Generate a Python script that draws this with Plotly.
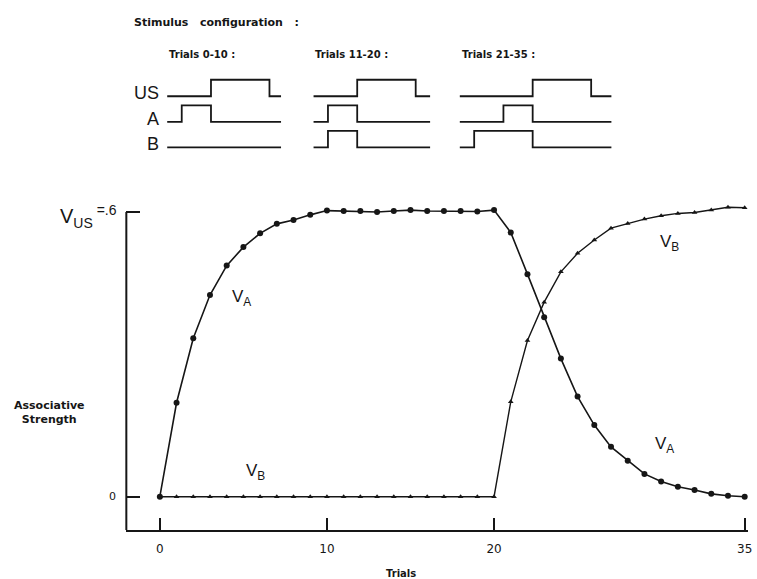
import plotly.graph_objects as go

W, H = 757, 579

# Associative strength of stimuli A and B on each trial
trials = list(range(36))
v_a = [0.0, 0.198, 0.334, 0.425, 0.487, 0.526, 0.555, 0.575, 0.583, 0.594, 0.603,
       0.602, 0.602, 0.600, 0.602, 0.604, 0.602, 0.602, 0.602, 0.601, 0.604,
       0.557, 0.469, 0.378, 0.291, 0.211, 0.151, 0.105, 0.076, 0.048, 0.032,
       0.021, 0.014, 0.006, 0.002, 0.0]
v_b = [0.0] * 21 + [0.200, 0.329, 0.410, 0.474, 0.513, 0.541, 0.566, 0.576,
                    0.585, 0.592, 0.597, 0.599, 0.604, 0.610, 0.609]
x_ticks = [0, 10, 20, 35]
v_us = 0.6

# Stimulus timing for each block of trials: (onset, offset), None = absent
block_titles = ["Trials 0-10 :", "Trials 11-20 :", "Trials 21-35 :"]
stim_names = ["US", "A", "B"]
us_pulse = [(3, 7), (3, 7), (5, 9)]
a_pulse = [(1, 3), (1, 3), (3, 5)]
b_pulse = [None, (1, 3), (1, 5)]
block_len = [7.8, 8.0, 10.4]

INK = "#161616"
SANS = "DejaVu Sans"
PLAIN = "Liberation Sans"


def px_x(p):
    return p / W


def px_y(p):
    return 1 - p / H


fig = go.Figure()

# Learning curves
fig.add_trace(go.Scatter(
    x=trials, y=v_a, mode="lines+markers", name="V_A",
    line=dict(color=INK, width=1.6),
    marker=dict(symbol="circle", size=6, color=INK),
    cliponaxis=False, hoverinfo="skip"))
fig.add_trace(go.Scatter(
    x=trials, y=v_b, mode="lines+markers", name="V_B",
    line=dict(color=INK, width=1.4),
    marker=dict(symbol="triangle-up", size=5, color=INK),
    cliponaxis=False, hoverinfo="skip"))

# Stimulus configuration schematic: one small panel per block
ROW_GAP = 1.55
row_base = {"US": 2 * ROW_GAP, "A": ROW_GAP, "B": 0.0}
pulses = {"US": us_pulse, "A": a_pulse, "B": b_pulse}
panel_left_px = [168, 315, 462]
UNIT_PX = 14.7
panel_axes = ["x2", "x3", "x4"]

for i in range(len(block_titles)):
    for s in stim_names:
        base = row_base[s]
        p = pulses[s][i]
        if p is None:
            xs, ys = [0, block_len[i]], [base, base]
        else:
            xs = [0, p[0], p[1], block_len[i]]
            ys = [base, base + 1, base, base]
        fig.add_trace(go.Scatter(
            x=xs, y=ys, xaxis=panel_axes[i], yaxis="y2", mode="lines",
            line=dict(color=INK, width=1.8, shape="hv"),
            cliponaxis=False, hoverinfo="skip", showlegend=False))

layout = dict(
    width=W, height=H, margin=dict(l=0, r=0, t=0, b=0),
    paper_bgcolor="white", plot_bgcolor="white", showlegend=False,
    xaxis=dict(
        domain=[px_x(127), px_x(752)], range=[-2.006, 35.2],
        tickvals=x_ticks, ticks="inside", ticklen=12, tickwidth=2,
        tickcolor=INK, showline=True, linecolor=INK, linewidth=2,
        showgrid=False, zeroline=False, ticklabelstandoff=7,
        tickfont=dict(family=SANS, size=12, color=INK), anchor="y"),
    yaxis=dict(
        domain=[px_y(530), px_y(200)], range=[-0.0702, 0.6253],
        tickvals=[0, v_us], ticks="inside", ticklen=14, tickwidth=2,
        tickcolor=INK, showticklabels=False, showline=False,
        showgrid=False, zeroline=False, anchor="x"),
    yaxis2=dict(domain=[px_y(160), px_y(70)], range=[-0.76, 4.69],
                visible=False, anchor="x2"),
)
for i, name in enumerate(panel_axes):
    left = panel_left_px[i]
    right = left + block_len[i] * UNIT_PX
    layout["xaxis" + name[1:]] = dict(
        domain=[px_x(left), px_x(right)], range=[0, block_len[i]],
        visible=False, anchor="y2")
fig.update_layout(**layout)

# Vertical axis line, ending at the V_US level
fig.add_shape(type="line", xref="x domain", x0=0, x1=0, yref="y",
              y0=-0.0702, y1=v_us, line=dict(color=INK, width=2))

ann = []
# y-axis value labels
ann.append(dict(text="0", xref="paper", x=px_x(119), yref="y", y=0,
                xanchor="right", yanchor="middle", showarrow=False,
                font=dict(family=SANS, size=11, color=INK)))
ann.append(dict(text="V<sub>US</sub><sup>\u00a0=.6</sup>", xref="paper",
                x=px_x(120), yref="y", y=v_us, xanchor="right",
                yanchor="middle", yshift=-4, showarrow=False,
                font=dict(family=PLAIN, size=20, color=INK)))
# axis titles
ann.append(dict(text="Associative<br>Strength", xref="paper", x=px_x(50),
                yref="paper", y=px_y(412), xanchor="center", yanchor="middle",
                showarrow=False,
                font=dict(family=SANS, size=11, color=INK, weight="bold")))
ann.append(dict(text="Trials", xref="paper", x=px_x(403), yref="paper",
                y=px_y(573), xanchor="center", yanchor="middle",
                showarrow=False,
                font=dict(family=SANS, size=10, color=INK, weight="bold")))
# schematic headings
ann.append(dict(text="Stimulus\u00a0\u00a0\u00a0configuration\u00a0\u00a0\u00a0:",
                xref="paper", x=px_x(133), yref="paper", y=px_y(23),
                xanchor="left", yanchor="middle", showarrow=False,
                font=dict(family=SANS, size=11, color=INK, weight="bold")))
for i, title in enumerate(block_titles):
    ann.append(dict(text=title, xref=panel_axes[i] + " domain", x=0,
                    yref="paper", y=px_y(55), xanchor="left",
                    yanchor="middle", showarrow=False,
                    font=dict(family=SANS, size=10, color=INK,
                              weight="bold")))
for s in stim_names:
    ann.append(dict(text=s, xref="paper", x=px_x(162), yref="y2",
                    y=row_base[s], xanchor="right", yanchor="middle",
                    yshift=3, showarrow=False,
                    font=dict(family=PLAIN, size=18, color=INK)))
# curve labels
curve_labels = [("V<sub>A</sub>", 4.9, 0.419), ("V<sub>B</sub>", 5.73, 0.052),
                ("V<sub>B</sub>", 30.5, 0.534), ("V<sub>A</sub>", 30.2, 0.109)]
for text, lx, ly in curve_labels:
    ann.append(dict(text=text, xref="x", x=lx, yref="y", y=ly,
                    xanchor="center", yanchor="middle", showarrow=False,
                    font=dict(family=PLAIN, size=17, color=INK)))
fig.update_layout(annotations=ann)

fig.write_html("out.html")
